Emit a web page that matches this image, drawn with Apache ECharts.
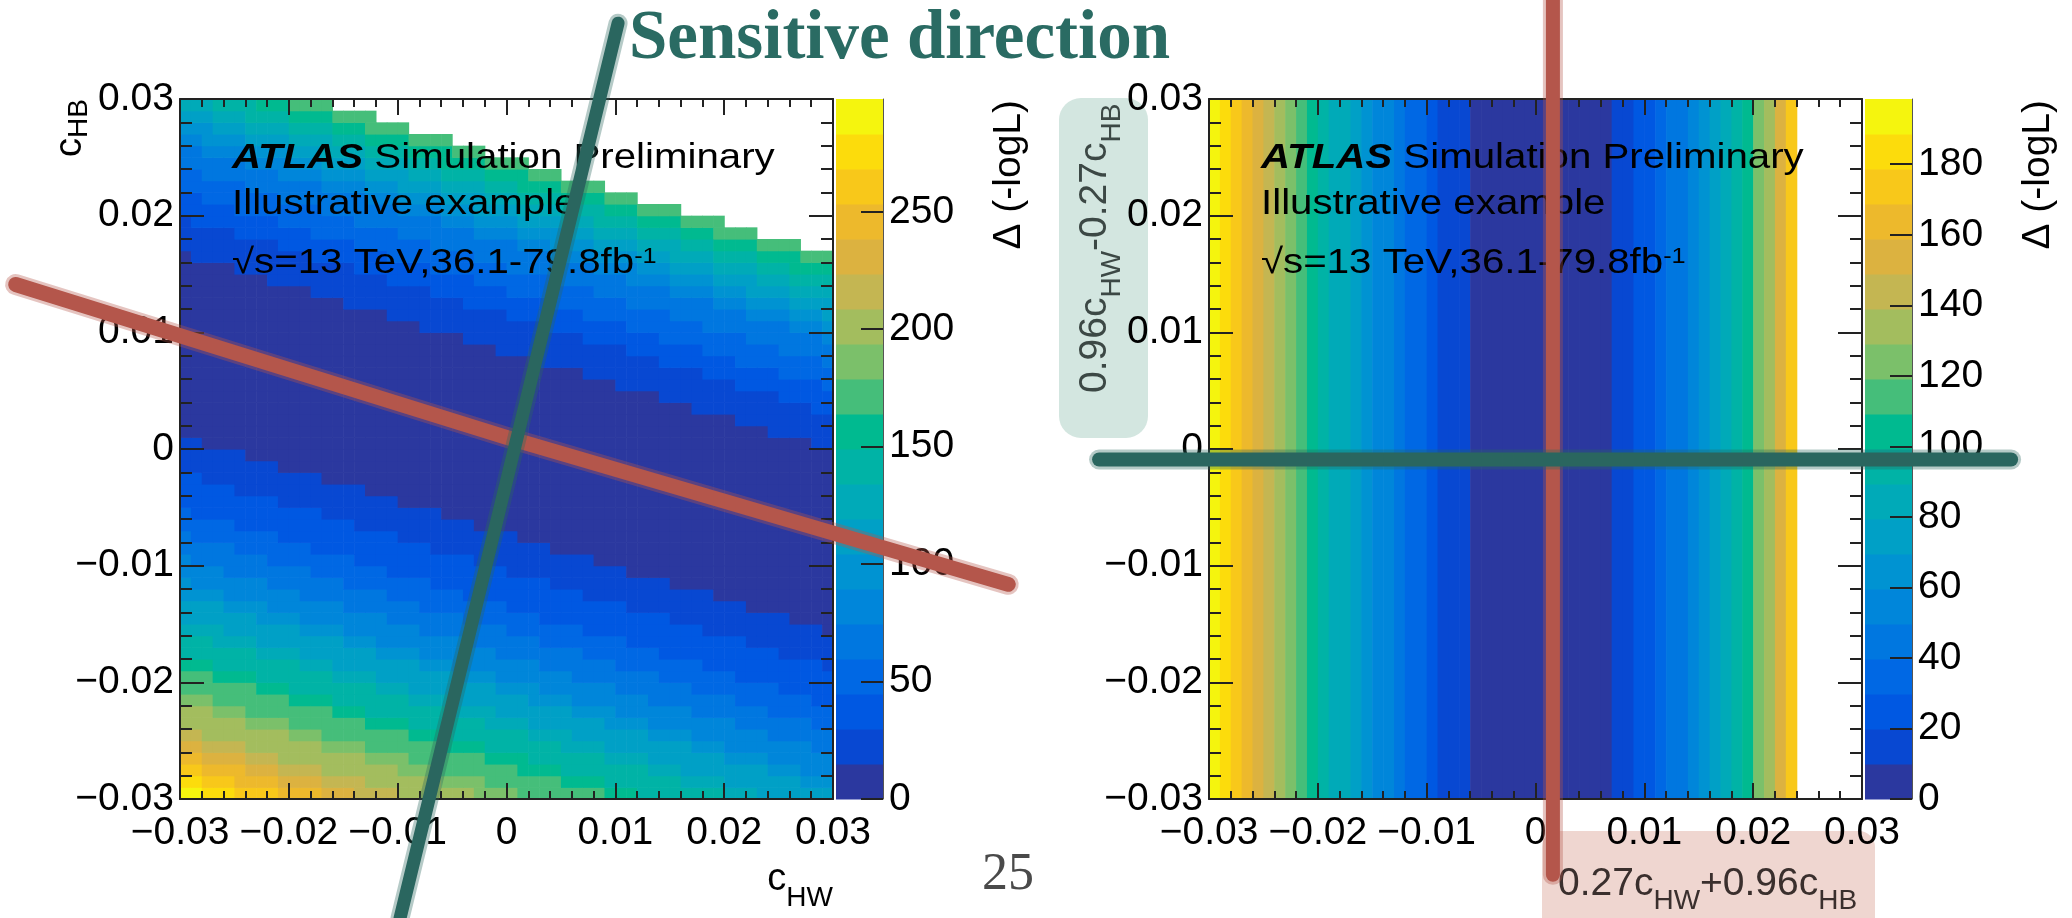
<!DOCTYPE html>
<html>
<head>
<meta charset="utf-8">
<script src="https://cdn.jsdelivr.net/npm/echarts@6/dist/echarts.min.js"></script>
<style>
  html, body { margin: 0; padding: 0; background: #fff; }
  #chart { width: 2072px; height: 918px; }
</style>
</head>
<body>
<div id="chart"></div>
<script>
// tick labels of both parameter axes
const axisTicks = [-0.03, -0.02, -0.01, 0, 0.01, 0.02, 0.03];
const binWidth = 0.001;   // 60 x 60 bins
const nBins = 60;

// Δ(-logL) read along the sensitive direction u = 0.27 cHW + 0.96 cHB,
// 0.001 wide bins starting at u = -0.037; beyond u = 0.024 the histogram is empty (white)
const uStart = -0.037;
const uStep = 0.001;
const profile = [
  290, 274, 259, 245, 231, 218, 206,                 // -0.037 .. -0.030
  195, 185, 176, 166, 155, 145, 135, 125, 115, 106,  // -0.030 .. -0.020
  97, 88, 80, 72, 64, 57, 50, 43, 37, 31,            // -0.020 .. -0.010
  25, 19, 15, 11, 7, 5, 3, 1.5, 0.5, 0,              // -0.010 .. 0
  0.3, 1, 2.5, 4.5, 6.5, 8, 9.6, 12, 17, 22,         // 0 .. 0.010
  28, 34, 41, 48, 56, 64, 73, 83, 94, 106,           // 0.010 .. 0.020
  120, 136, 152, 170                                 // 0.020 .. 0.024
];

// z ranges of the two colour bars (20 contour levels each)
const zMaxL = 298;
const zMaxR = 198.5;
const cbTicksL = [0, 50, 100, 150, 200, 250];
const cbTicksR = [0, 20, 40, 60, 80, 100, 120, 140, 160, 180];

// hand drawn guide lines, in axis coordinates
const redLeft = [[-0.0451, 0.0141], [0, 0.0010], [0.0461, -0.0116]];
const greenLeft = [[0.01025, 0.0365], [-0.00978, -0.0402]];
const redRight = [[0.0016, 0.0385], [0.0016, -0.0365]];
const greenRight = [[-0.0401, -0.0009], [0.0437, -0.0009]];

// ROOT bird palette, 20 levels, low -> high
const palette = [
  '#2b389f', '#0848d2', '#0058e2', '#0068e4', '#0077e0',
  '#0086da', '#0093d2', '#00a0c6', '#00aab8', '#00b3a6',
  '#00ba90', '#45be7a', '#7bc06a', '#a3bd5e', '#c4b652',
  '#dcb240', '#edb92c', '#f8c81a', '#fcdc0c', '#f5f50e'
];

const FONT = 'Liberation Sans';
const INK = '#222';

function levelColor(v, zMax) {
  const lvl = Math.min(19, Math.max(0, Math.floor(v / (zMax / 20))));
  return palette[lvl];
}

function profileAt(u) {
  const k = Math.floor((u - uStart) / uStep + 1e-9);
  return (k >= 0 && k < profile.length) ? profile[k] : null;
}

function tickText(v) {
  if (Math.abs(v) < 1e-9) return '0';
  return (v < 0 ? '\u2212' : '') + Math.abs(v).toFixed(2);
}

// bin centres
const centers = [];
for (let i = 0; i < nBins; i++) centers.push(-0.03 + binWidth * (i + 0.5));

const leftCells = [];
centers.forEach(x => {
  centers.forEach(y => {
    const v = profileAt(0.27 * x + 0.96 * y);
    if (v != null) leftCells.push([x, y, v]);
  });
});

const rightCells = [];
centers.forEach(u => {
  const v = profileAt(u);
  if (v != null) rightCells.push([u, 0, v]);
});

function barData(zMax) {
  const band = zMax / 20;
  const out = [];
  for (let l = 0; l < 20; l++) out.push([0.5, (l + 0.5) * band, l]);
  return out;
}

function cellLeft(params, api) {
  const x = api.value(0), y = api.value(1);
  const a = api.coord([x - binWidth / 2, y + binWidth / 2]);
  const b = api.coord([x + binWidth / 2, y - binWidth / 2]);
  return {
    type: 'rect',
    shape: { x: a[0], y: a[1], width: b[0] - a[0] + 0.6, height: b[1] - a[1] + 0.6 },
    style: { fill: levelColor(api.value(2), zMaxL) }
  };
}

function cellRight(params, api) {
  const u = api.value(0);
  const a = api.coord([u - binWidth / 2, 0.03]);
  const b = api.coord([u + binWidth / 2, -0.03]);
  return {
    type: 'rect',
    shape: { x: a[0], y: a[1], width: b[0] - a[0] + 0.6, height: b[1] - a[1] },
    style: { fill: levelColor(api.value(2), zMaxR) }
  };
}

function barItem(zMax) {
  const band = zMax / 20;
  return function (params, api) {
    const l = api.value(2);
    const a = api.coord([0, (l + 1) * band]);
    const b = api.coord([1, l * band]);
    return {
      type: 'rect',
      shape: { x: a[0], y: a[1], width: b[0] - a[0], height: b[1] - a[1] + 0.6 },
      style: { fill: palette[l] }
    };
  };
}

const frameLine = { show: true, onZero: false, lineStyle: { color: INK, width: 2 } };
const tickLabel = { fontSize: 39, fontFamily: FONT, color: '#000' };

function mainX(gridIndex, position) {
  return {
    type: 'value', gridIndex, position, min: -0.03, max: 0.03, interval: 0.01, z: 10,
    splitLine: { show: false },
    axisLine: frameLine,
    axisTick: { inside: true, length: 16, lineStyle: { color: INK, width: 2 } },
    minorTick: { show: true, splitNumber: 5, length: 8, lineStyle: { color: INK, width: 2 } },
    axisLabel: position === 'bottom'
      ? Object.assign({ margin: 15, formatter: tickText, showMinLabel: true, showMaxLabel: true }, tickLabel)
      : { show: false }
  };
}

function mainY(gridIndex, position) {
  return {
    type: 'value', gridIndex, position, min: -0.03, max: 0.03, interval: 0.01, z: 10,
    splitLine: { show: false },
    axisLine: frameLine,
    axisTick: { inside: true, length: 24, lineStyle: { color: INK, width: 2 } },
    minorTick: { show: true, splitNumber: 5, length: 12, lineStyle: { color: INK, width: 2 } },
    axisLabel: position === 'left'
      ? Object.assign({ margin: 6, formatter: tickText, showMinLabel: true, showMaxLabel: true }, tickLabel)
      : { show: false }
  };
}

function barX(gridIndex) {
  return { type: 'value', gridIndex, min: 0, max: 1, show: false };
}

function barY(gridIndex, zMax, ticks) {
  return {
    type: 'value', gridIndex, position: 'right', min: 0, max: zMax, z: 10,
    splitLine: { show: false },
    axisLine: { show: true, onZero: false, lineStyle: { color: '#555', width: 1 } },
    axisTick: { inside: true, length: 22, customValues: ticks, lineStyle: { color: INK, width: 2 } },
    axisLabel: Object.assign({
      margin: 6, customValues: ticks,
      formatter: v => (ticks.indexOf(Math.round(v)) >= 0 && Math.abs(v - Math.round(v)) < 1e-6 ? String(Math.round(v)) : '')
    }, tickLabel)
  };
}

// a marker stroke: solid core plus a faint ragged rim
function guide(xi, points, color, width) {
  return {
    type: 'custom', xAxisIndex: xi, yAxisIndex: xi, data: [points[0]], clip: false,
    silent: true, z: 50,
    renderItem: (params, api) => {
      const pts = points.map(p => api.coord(p));
      return {
        type: 'group',
        children: [
          { type: 'polyline', shape: { points: pts }, style: { stroke: color, fill: null, lineWidth: width + 6, opacity: 0.35, lineCap: 'round', lineJoin: 'round' } },
          { type: 'polyline', shape: { points: pts }, style: { stroke: color, fill: null, lineWidth: width, lineCap: 'round', lineJoin: 'round' } }
        ]
      };
    }
  };
}

function subText(text, m, s, lh) {
  return {
    text,
    rich: {
      m: { fontSize: m, fontFamily: FONT, lineHeight: lh },
      s: { fontSize: s, fontFamily: FONT, lineHeight: s, verticalAlign: 'bottom' }
    }
  };
}

function atlasLabel(x) {
  return [
    {
      type: 'text', x, y: 158, scaleX: 1.15, z: 40, silent: true,
      style: {
        text: '{b|ATLAS} Simulation Preliminary', fontSize: 35, fontFamily: FONT, fill: '#000',
        verticalAlign: 'middle',
        rich: { b: { fontSize: 35, fontFamily: FONT, fontWeight: 'bold', fontStyle: 'italic' } }
      }
    },
    {
      type: 'text', x, y: 204, scaleX: 1.15, z: 40, silent: true,
      style: { text: 'Illustrative example', fontSize: 35, fontFamily: FONT, fill: '#000', verticalAlign: 'middle' }
    },
    {
      type: 'text', x, y: 263, scaleX: 1.15, z: 40, silent: true,
      style: {
        text: '\u221As=13 TeV,36.1-79.8fb{sup|-1}', fontSize: 35, fontFamily: FONT, fill: '#000',
        verticalAlign: 'middle',
        rich: { sup: { fontSize: 22, fontFamily: FONT, verticalAlign: 'top' } }
      }
    }
  ];
}

const graphics = [
  // highlight boxes behind the rotated axis titles of the right panel
  { type: 'rect', z: 1, silent: true, shape: { x: 1059, y: 98, width: 89, height: 340, r: 22 }, style: { fill: '#d3e6e0' } },
  { type: 'rect', z: 1, silent: true, shape: { x: 1542, y: 831, width: 333, height: 110, r: 16 }, style: { fill: '#efd6d0' } },
  {
    type: 'text', x: 629, y: 40, z: 40, silent: true,
    style: { text: 'Sensitive direction', fontSize: 69, fontWeight: 'bold', fontFamily: 'Liberation Serif', fill: '#2a6b63', verticalAlign: 'middle' }
  },
  {
    type: 'text', x: 982, y: 875, z: 40, silent: true,
    style: { text: '25', fontSize: 52, fontFamily: 'Liberation Serif', fill: '#4a4a4a', verticalAlign: 'middle' }
  },
  // left panel axis titles
  {
    type: 'text', x: 71, y: 157, rotation: Math.PI / 2, z: 40, silent: true,
    style: Object.assign({ fill: '#000', align: 'left', verticalAlign: 'middle' }, subText('{m|c}{s|HB}', 38, 28, 44))
  },
  {
    type: 'text', x: 833, y: 880, z: 40, silent: true,
    style: Object.assign({ fill: '#000', align: 'right', verticalAlign: 'middle' }, subText('{m|c}{s|HW}', 38, 28, 65))
  },
  // right panel axis titles
  {
    type: 'text', x: 1095, y: 393, rotation: Math.PI / 2, z: 40, silent: true,
    style: Object.assign({ fill: '#3c4845', align: 'left', verticalAlign: 'middle' }, subText('{m|0.96c}{s|HW}{m|-0.27c}{s|HB}', 39, 28, 62))
  },
  {
    type: 'text', x: 1558, y: 884, z: 40, silent: true,
    style: Object.assign({ fill: '#3a2f2d', align: 'left', verticalAlign: 'middle' }, subText('{m|0.27c}{s|HW}{m|+0.96c}{s|HB}', 39, 28, 62))
  },
  // colour bar titles
  {
    type: 'text', x: 1009, y: 100, rotation: Math.PI / 2, z: 40, silent: true,
    style: { text: '\u0394 (-logL)', fontSize: 39, fontFamily: FONT, fill: '#000', align: 'right', verticalAlign: 'middle' }
  },
  {
    type: 'text', x: 2038, y: 100, rotation: Math.PI / 2, z: 40, silent: true,
    style: { text: '\u0394 (-logL)', fontSize: 39, fontFamily: FONT, fill: '#000', align: 'right', verticalAlign: 'middle' }
  }
].concat(atlasLabel(232), atlasLabel(1261));

const chart = echarts.init(document.getElementById('chart'));

chart.setOption({
  animation: false,
  backgroundColor: '#fff',
  grid: [
    { left: 180, top: 99, width: 653, height: 700, containLabel: false, outerBoundsMode: 'none' },
    { left: 836, top: 99, width: 47, height: 700, containLabel: false, outerBoundsMode: 'none' },
    { left: 1209, top: 99, width: 653, height: 700, containLabel: false, outerBoundsMode: 'none' },
    { left: 1865, top: 99, width: 47, height: 700, containLabel: false, outerBoundsMode: 'none' }
  ],
  xAxis: [
    mainX(0, 'bottom'), mainX(0, 'top'), barX(1),
    mainX(2, 'bottom'), mainX(2, 'top'), barX(3)
  ],
  yAxis: [
    mainY(0, 'left'), mainY(0, 'right'), barY(1, zMaxL, cbTicksL),
    mainY(2, 'left'), mainY(2, 'right'), barY(3, zMaxR, cbTicksR)
  ],
  series: [
    { type: 'custom', xAxisIndex: 0, yAxisIndex: 0, data: leftCells, renderItem: cellLeft, clip: true, silent: true, z: 2 },
    { type: 'custom', xAxisIndex: 2, yAxisIndex: 2, data: barData(zMaxL), renderItem: barItem(zMaxL), silent: true, z: 2 },
    { type: 'custom', xAxisIndex: 3, yAxisIndex: 3, data: rightCells, renderItem: cellRight, clip: true, silent: true, z: 2 },
    { type: 'custom', xAxisIndex: 5, yAxisIndex: 5, data: barData(zMaxR), renderItem: barItem(zMaxR), silent: true, z: 2 },
    guide(0, redLeft, '#b4564b', 15),
    guide(0, greenLeft, '#2a665f', 13),
    guide(3, redRight, '#b4564b', 14),
    guide(3, greenRight, '#2a665f', 14)
  ],
  graphic: graphics
});
</script>
</body>
</html>
